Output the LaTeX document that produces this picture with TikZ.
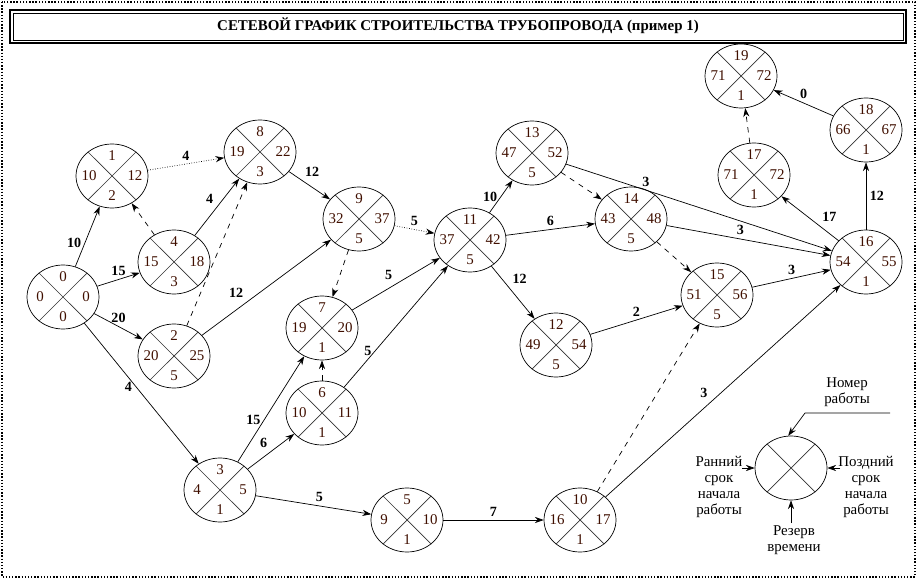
\documentclass[tikz,border=0pt]{standalone}
\usepackage{fontspec}
\setmainfont{Liberation Serif}
\usetikzlibrary{shapes.geometric,arrows.meta}

\definecolor{numcol}{rgb}{0.25,0.06,0.0}
\tikzset{
    ev/.style = {ellipse, draw, minimum width = 1.44cm, minimum height = 1.28cm, inner sep = 0pt},
    num/.style = {font = \fontsize{8.5}{9}\selectfont, text = numcol, inner sep = 0pt},
    lbl/.style = {font = \fontsize{8}{9}\selectfont\bfseries, inner sep = 2pt},
    txt/.style = {font = \fontsize{8.5}{9}\selectfont, align = center, inner sep = 0pt},
    arr/.style = {-{Stealth[length = 5pt, width = 3.5pt]}},
}
% event: name, x, y, number, early, late, reserve
\newcommand{\ev}[7]{%
    \node [ev] (#1) at (#2,#3) {};
    \draw [black!80] (#1.45) -- (#1.225) (#1.135) -- (#1.-45);
    \node [num] at ([yshift = .4cm]#1.center) {#4};
    \node [num] at ([xshift = -.46cm]#1.center) {#5};
    \node [num] at ([xshift = .46cm]#1.center) {#6};
    \node [num] at ([yshift = -.4cm]#1.center) {#7};
}

\begin{document}
\begin{tikzpicture}[x = .02cm, y = -.02cm, >= stealth]
    \useasboundingbox (0,0) rectangle (918,580);
    \draw [densely dotted, thick] (2,2) rectangle (915,577);
    \draw [thick] (10,10) rectangle (906,43);
    \draw (13,13) rectangle (903,40);
    \node [font = \fontsize{8.5}{9}\selectfont\bfseries] (title) at (458,26)
        {СЕТЕВОЙ ГРАФИК СТРОИТЕЛЬСТВА ТРУБОПРОВОДА (пример 1)};

    %%%%%%%%%%%%%%%%%%%% events
    \ev{e0}{63}{297}{0}{0}{0}{0}
    \ev{e1}{112}{176}{1}{10}{12}{2}
    \ev{e4}{174}{262}{4}{15}{18}{3}
    \ev{e2}{174}{356}{2}{20}{25}{5}
    \ev{e8}{260}{152}{8}{19}{22}{3}
    \ev{e9}{359}{219}{9}{32}{37}{5}
    \ev{e7}{322}{328}{7}{19}{20}{1}
    \ev{e6}{322}{413}{6}{10}{11}{1}
    \ev{e3}{220}{490}{3}{4}{5}{1}
    \ev{e5}{407}{520}{5}{9}{10}{1}
    \ev{e10}{580}{520}{10}{16}{17}{1}
    \ev{e11}{470}{240}{11}{37}{42}{5}
    \ev{e12}{556}{345}{12}{49}{54}{5}
    \ev{e13}{532}{153}{13}{47}{52}{5}
    \ev{e14}{631}{219}{14}{43}{48}{5}
    \ev{e15}{717}{295}{15}{51}{56}{5}
    \ev{e16}{866}{262}{16}{54}{55}{1}
    \ev{e17}{754}{175}{17}{71}{72}{1}
    \ev{e18}{866}{130}{18}{66}{67}{1}
    \ev{e19}{741}{76}{19}{71}{72}{1}

    %%%%%%%%%%%%%%%%%%%% works
    \draw [arr] (e0) -- node [lbl, left, pos = .4] {10} (e1);
    \draw [arr] (e0) -- node [lbl, above, pos = .5] {15} (e4);
    \draw [arr] (e0) -- node [lbl, above, pos = .5] {20} (e2);
    \draw [arr] (e0) -- node [lbl, left, pos = .45] {4} (e3);
    \draw [arr, densely dotted] (e1) -- node [lbl, above] {4} (e8);
    \draw [arr, dashed] (e4) -- (e1);
    \draw [arr] (e4) -- node [lbl, above left] {4} (e8);
    \draw [arr, dashed] (e2) -- (e8);
    \draw [arr] (e2) -- node [lbl, above left, pos = .35] {12} (e9);
    \draw [arr] (e8) -- node [lbl, above right, pos = .3] {12} (e9);
    \draw [arr, densely dotted] (e9) -- node [lbl, above] {5} (e11);
    \draw [arr, dashed] (e9) -- (e7);
    \draw [arr] (e7) -- node [lbl, above left] {5} (e11);
    \draw [arr] (e6) -- node [lbl, left, pos = .3] {5} (e11);
    \draw [arr, dashed] (e6) -- (e7);
    \draw [arr] (e3) -- node [lbl, left, pos = .4] {15} (e7);
    \draw [arr] (e3) -- node [lbl, above left] {6} (e6);
    \draw [arr] (e3) -- node [lbl, above, pos = .55] {5} (e5);
    \draw [arr] (e5) -- node [lbl, above] {7} (e10);
    \draw [arr, dashed] (e10) -- (e15);
    \draw [arr] (e10) -- node [lbl, above left, pos = .45] {3} (e16);
    \draw [arr] (e11) -- node [lbl, left] {10} (e13);
    \draw [arr] (e11) -- node [lbl, above] {6} (e14);
    \draw [arr] (e11) -- node [lbl, above right, pos = .4] {12} (e12);
    \draw [arr, dashed] (e13) -- (e14);
    \draw [arr] (e13) -- node [lbl, above, pos = .3] {3} (e16);
    \draw [arr] (e14) -- node [lbl, above, pos = .45] {3} (e16);
    \draw [arr, dashed] (e14) -- (e15);
    \draw [arr] (e12) -- node [lbl, above] {2} (e15);
    \draw [arr] (e15) -- node [lbl, above] {3} (e16);
    \draw [arr] (e16) -- node [lbl, above right, pos = .35] {17} (e17);
    \draw [arr] (e16) -- node [lbl, right] {12} (e18);
    \draw [arr, dashed] (e17) -- (e19);
    \draw [arr] (e18) -- node [lbl, above] {0} (e19);

    %%%%%%%%%%%%%%%%%%%% legend
    \node [ev] (key) at (791,468) {};
    \draw [black!80] (key.45) -- (key.225) (key.135) -- (key.-45);
    \node [txt] (kn) at (847,392) {Номер\\работы};
    \node [txt] (ke) at (719,487) {Ранний\\срок\\начала\\работы};
    \node [txt] (kl) at (866,487) {Поздний\\срок\\начала\\работы};
    \node [txt] (kr) at (794,540) {Резерв\\времени};
    \coordinate (kna) at (890,413);
    \coordinate (knb) at (805,413);
    \coordinate (kea) at (742,468);
    \coordinate (kla) at (840,468);
    \coordinate (kra) at (791,523);
    \draw [arr] (kna) -- (knb) -- (key.95);
    \draw [arr] (kea) -- (key.west);
    \draw [arr] (kla) -- (key.east);
    \draw [arr] (kra) -- (key.south);
\end{tikzpicture}
\end{document}
